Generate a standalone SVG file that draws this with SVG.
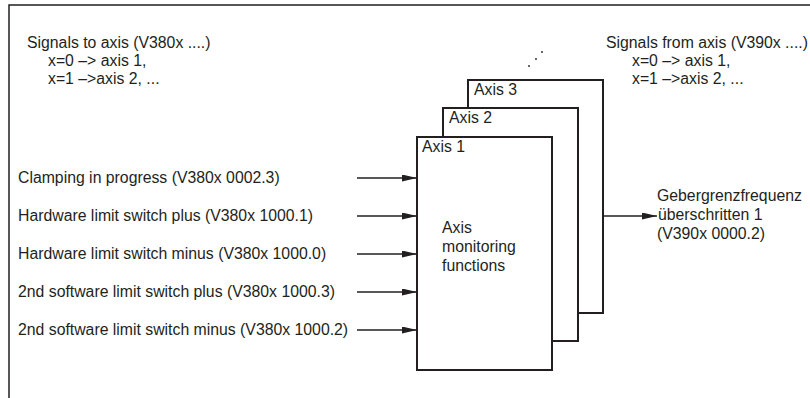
<svg xmlns="http://www.w3.org/2000/svg" width="810" height="398" viewBox="0 0 810 398">
<style>
text{font-family:"Liberation Sans",Arial,sans-serif;font-size:15.8px;fill:#231f20}
.box{fill:#fff;stroke:#231f20;stroke-width:2}
.frame{fill:none;stroke:#231f20;stroke-width:1.5}
.con{stroke:#231f20;stroke-width:1.4;fill:none;marker-end:url(#ah)}
</style>
<defs>
<marker id="ah" viewBox="0 0 15 7" refX="15" refY="3.5" markerWidth="15" markerHeight="7" markerUnits="userSpaceOnUse" orient="auto">
<path d="M0,0 L15,3.5 L0,7 Z" fill="#231f20"/>
</marker>
</defs>
<path class="frame" d="M9,398 V5 H810"/>
<g id="note-in">
<text x="27" y="48">Signals to axis (V380x ....)</text>
<text x="48" y="66">x=0 –&gt; axis 1,</text>
<text x="48" y="84">x=1 –&gt;axis 2, ...</text>
</g>
<g id="note-out">
<text x="606" y="48">Signals from axis (V390x ....)</text>
<text x="632" y="66">x=0 –&gt; axis 1,</text>
<text x="632" y="84">x=1 –&gt;axis 2, ...</text>
</g>
<g id="dots" fill="#231f20">
<circle cx="529" cy="66" r="0.9"/>
<circle cx="536" cy="59" r="0.9"/>
<circle cx="542" cy="52" r="0.9"/>
</g>
<g id="axis3">
<rect class="box" x="468" y="80" width="135" height="233"/>
<text x="474" y="95">Axis 3</text>
</g>
<g id="axis2">
<rect class="box" x="443" y="108" width="135" height="233"/>
<text x="449" y="123">Axis 2</text>
</g>
<g id="axis1">
<rect class="box" x="417" y="137" width="135" height="233"/>
<text x="422" y="152">Axis 1</text>
<text x="442" y="233">Axis</text>
<text x="442" y="252">monitoring</text>
<text x="442" y="271">functions</text>
</g>
<g id="inputs">
<text x="18" y="183">Clamping in progress (V380x 0002.3)</text>
<text x="18" y="221">Hardware limit switch plus (V380x 1000.1)</text>
<text x="18" y="259">Hardware limit switch minus (V380x 1000.0)</text>
<text x="18" y="297">2nd software limit switch plus (V380x 1000.3)</text>
<text x="18" y="335">2nd software limit switch minus (V380x 1000.2)</text>
</g>
<g id="output">
<text x="657" y="201">Gebergrenzfrequenz</text>
<text x="658" y="220">überschritten 1</text>
<text x="657" y="239">(V390x 0000.2)</text>
</g>
<g id="connectors">
<line class="con" x1="357" y1="178" x2="417" y2="178"/>
<line class="con" x1="357" y1="216" x2="417" y2="216"/>
<line class="con" x1="357" y1="254" x2="417" y2="254"/>
<line class="con" x1="357" y1="292" x2="417" y2="292"/>
<line class="con" x1="357" y1="330" x2="417" y2="330"/>
<line class="con" x1="603" y1="216" x2="657" y2="216"/>
</g>
</svg>
